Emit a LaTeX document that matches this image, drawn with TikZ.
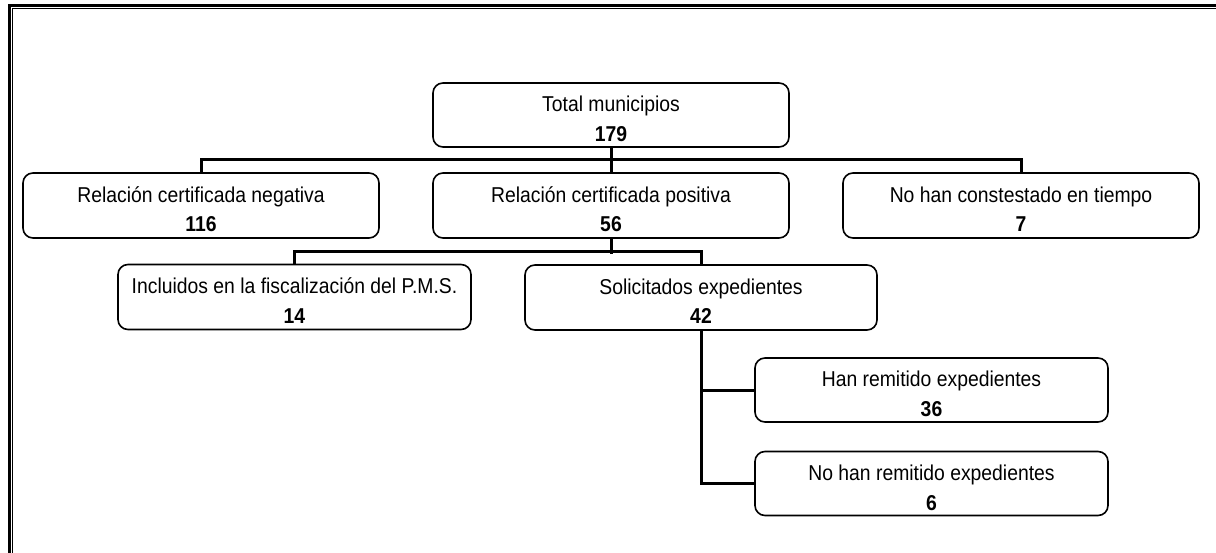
\documentclass[tikz,border=0pt]{standalone}
\usepackage{fontspec}
\setmainfont{Liberation Sans}[FakeStretch=0.9]
\begin{document}
\begin{tikzpicture}[x=1pt,y=-1pt,
  box/.style={draw=black, line width=1.6pt, rounded corners=10pt, minimum height=65pt, inner sep=0pt, fill=white},
  wbox/.style={box, minimum width=356pt},
  nbox/.style={box, minimum width=353pt},
  conn/.style={draw=black, line width=3pt},
  ttop/.style={anchor=base, inner sep=0pt, font=\fontsize{21.5}{24}\selectfont},
  tnum/.style={anchor=base, inner sep=0pt, font=\fontsize{21.5}{24}\selectfont\bfseries}
]
\useasboundingbox (0,0) rectangle (1216,553);
% frame
\draw[line width=2.8pt] (9.3,560) -- (9.3,5.3) -- (1225,5.3);
\draw[line width=1.4pt] (12.7,560) -- (12.7,8.7) -- (1225,8.7);

% boxes
\node[wbox, minimum height=64pt] (total) at (611,115) {};
\node[wbox] (neg) at (201,205.5) {};
\node[wbox] (pos) at (611,205.5) {};
\node[wbox] (noc) at (1021,205.5) {};
\node[nbox] (incl) at (294.5,297) {};
\node[nbox, minimum width=352pt] (sol) at (701,297.5) {};
\node[nbox, minimum height=64pt] (han) at (931.5,390) {};
\node[nbox, minimum height=64pt] (nohan) at (931.5,483.5) {};

% texts
\foreach \n/\a/\b in {total/Total municipios/179,
  neg/Relación certificada negativa/116,
  pos/Relación certificada positiva/56,
  noc/No han constestado en tiempo/7,
  incl/Incluidos en la fiscalización del P.M.S./14,
  sol/Solicitados expedientes/42,
  han/Han remitido expedientes/36,
  nohan/No han remitido expedientes/6}{
  \node[ttop] (\n-a) at ([yshift=3pt]\n.center) {\a};
  \node[tnum] (\n-b) at ([yshift=-26.5pt]\n.center) {\b};
}

% connectors
\draw[conn] (total.south) -- (pos.north);
\draw[conn] (neg.north) -- ++(0,-13) -| (noc.north);
\draw[conn] (pos.south) -- ++(0,15);
\draw[conn] (incl.north) -- ++(0,-12.5) -| (sol.north);
\draw[conn] (sol.south) |- (nohan.west);
\draw[conn] (sol.south |- han.west) -- (han.west);
\end{tikzpicture}
\end{document}
